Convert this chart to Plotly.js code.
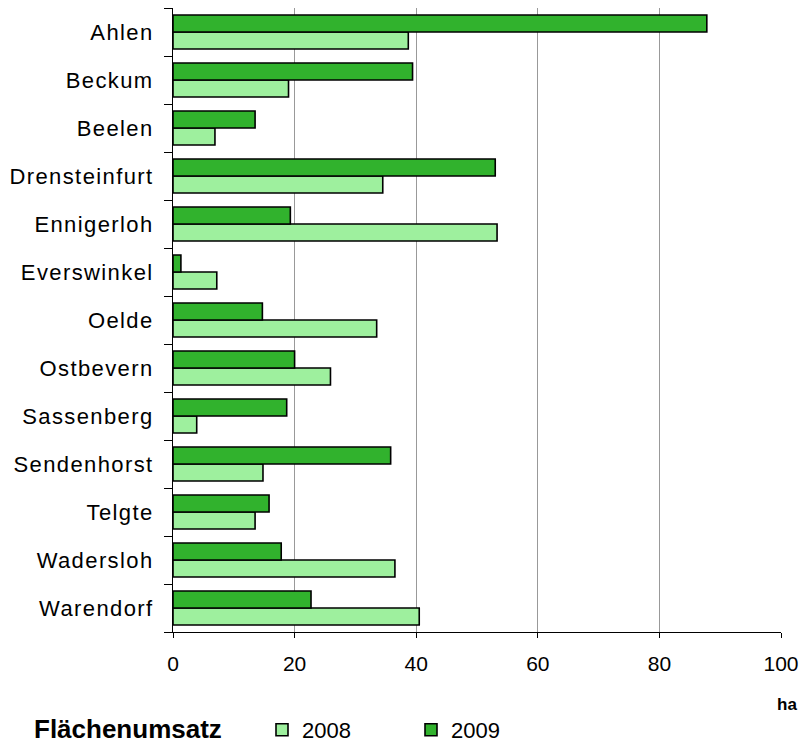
<!DOCTYPE html>
<html>
<head>
<meta charset="utf-8">
<script src="https://cdn.plot.ly/plotly-3.0.1.min.js"></script>
<style>
  html, body { margin: 0; padding: 0; background: #fff; }
  #chart { width: 802px; height: 744px; }
  .ytick text { letter-spacing: 1.4px; }
</style>
</head>
<body>
<div id="chart"></div>
<script>
const categories = ["Ahlen", "Beckum", "Beelen", "Drensteinfurt", "Ennigerloh", "Everswinkel",
  "Oelde", "Ostbevern", "Sassenberg", "Sendenhorst", "Telgte", "Wadersloh", "Warendorf"];
const values2008 = [38.7, 19.0, 6.9, 34.5, 53.3, 7.2, 33.5, 25.9, 3.9, 14.8, 13.5, 36.5, 40.5];
const values2009 = [87.8, 39.4, 13.5, 53.0, 19.3, 1.3, 14.7, 20.0, 18.7, 35.8, 15.8, 17.8, 22.7];
const seriesNames = ["2008", "2009"];
const xTicks = [0, 20, 40, 60, 80, 100];

const font = "Liberation Sans, Arial, sans-serif";

const traces = [
  {
    type: "bar", orientation: "h", name: seriesNames[0],
    x: values2008, y: categories,
    marker: { color: "#9ef09e", line: { color: "#000", width: 1.6 } },
    hoverinfo: "x+y"
  },
  {
    type: "bar", orientation: "h", name: seriesNames[1],
    x: values2009, y: categories,
    marker: { color: "#31b22d", line: { color: "#000", width: 1.6 } },
    hoverinfo: "x+y"
  }
];

const plotL = 173, plotR = 21, plotT = 8, plotB = 112;
const plotW = 802 - plotL - plotR, plotH = 744 - plotT - plotB;
function px2paperX(px) { return (px - plotL) / plotW; }
function px2paperY(py) { return (744 - plotB - py) / plotH; }

const layout = {
  width: 802, height: 744,
  margin: { l: plotL, r: plotR, t: plotT, b: plotB, autoexpand: false },
  paper_bgcolor: "#fff", plot_bgcolor: "#fff",
  barmode: "group", bargap: 0.29, bargroupgap: 0,
  font: { family: font, color: "#000" },
  xaxis: {
    range: [0, 100], tickvals: xTicks, ticktext: xTicks.map(String),
    showgrid: true, gridcolor: "#999", gridwidth: 1,
    showline: true, linecolor: "#000", linewidth: 1,
    ticks: "outside", ticklen: 5, tickcolor: "#000",
    tickfont: { size: 21, family: font },
    ticklabelstandoff: 8, automargin: false,
    zeroline: false, fixedrange: true
  },
  yaxis: {
    type: "category", categoryorder: "array", categoryarray: categories.slice().reverse(),
    showgrid: false, showline: true, linecolor: "#000", linewidth: 1,
    ticks: "outside", ticklen: 8, tickcolor: "#000", tickson: "boundaries",
    tickfont: { size: 22, family: font },
    ticklabelstandoff: 14, automargin: false,
    zeroline: false, fixedrange: true
  },
  showlegend: true,
  legend: {
    orientation: "h", x: px2paperX(262), xanchor: "left", y: px2paperY(730), yanchor: "middle",
    xref: "paper", yref: "paper",
    font: { size: 22, family: font }, entrywidth: 104, entrywidthmode: "pixels",
    traceorder: "normal", itemclick: false, itemdoubleclick: false
  },
  annotations: [
    { text: "<b>ha</b>", xref: "paper", yref: "paper", x: px2paperX(787), xanchor: "center",
      y: px2paperY(704), yanchor: "middle",
      showarrow: false, font: { size: 17, family: font } },
    { text: "<b>Flächenumsatz</b>", xref: "paper", yref: "paper", x: px2paperX(32), xanchor: "left",
      y: px2paperY(729), yanchor: "middle",
      showarrow: false, font: { size: 26, family: font } }
  ]
};

Plotly.newPlot("chart", traces, layout, { displayModeBar: false, staticPlot: true });
</script>
</body>
</html>
